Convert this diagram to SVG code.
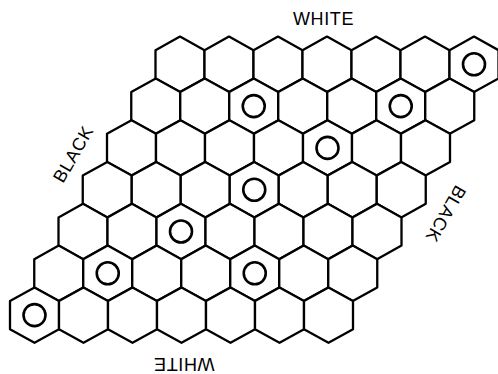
<svg xmlns="http://www.w3.org/2000/svg" xmlns:xlink="http://www.w3.org/1999/xlink" width="498" height="374" viewBox="0 0 498 374">
<style>
.cell{fill:#fff;stroke:#000;stroke-width:2.3;stroke-linejoin:round}
.stone{fill:none;stroke:#000;stroke-width:2.6}
.lbl{font-family:"Liberation Sans","DejaVu Sans",sans-serif;font-size:18px;fill:#000;text-anchor:middle;letter-spacing:0.6px}
</style>
<defs>
<polygon id="hex" class="cell" points="0,-27.7 24.5,-14.1 24.5,14.1 0,27.7 -24.5,14.1 -24.5,-14.1"/>
<circle id="stone" class="stone" r="11"/>
</defs>
<rect width="498" height="374" fill="#fff"/>
<g id="board">
<g id="h0-0" transform="translate(180,64.3)"><use xlink:href="#hex"/></g>
<g id="h0-1" transform="translate(229,64.3)"><use xlink:href="#hex"/></g>
<g id="h0-2" transform="translate(278,64.3)"><use xlink:href="#hex"/></g>
<g id="h0-3" transform="translate(327,64.3)"><use xlink:href="#hex"/></g>
<g id="h0-4" transform="translate(376,64.3)"><use xlink:href="#hex"/></g>
<g id="h0-5" transform="translate(425,64.3)"><use xlink:href="#hex"/></g>
<g id="h0-6" transform="translate(474,64.3)"><use xlink:href="#hex"/><use xlink:href="#stone"/></g>

<g id="h1-0" transform="translate(155.75,106.1)"><use xlink:href="#hex"/></g>
<g id="h1-1" transform="translate(204.75,106.1)"><use xlink:href="#hex"/></g>
<g id="h1-2" transform="translate(253.75,106.1)"><use xlink:href="#hex"/><use xlink:href="#stone"/></g>
<g id="h1-3" transform="translate(302.75,106.1)"><use xlink:href="#hex"/></g>
<g id="h1-4" transform="translate(351.75,106.1)"><use xlink:href="#hex"/></g>
<g id="h1-5" transform="translate(400.75,106.1)"><use xlink:href="#hex"/><use xlink:href="#stone"/></g>
<g id="h1-6" transform="translate(449.75,106.1)"><use xlink:href="#hex"/></g>

<g id="h2-0" transform="translate(131.5,147.9)"><use xlink:href="#hex"/></g>
<g id="h2-1" transform="translate(180.5,147.9)"><use xlink:href="#hex"/></g>
<g id="h2-2" transform="translate(229.5,147.9)"><use xlink:href="#hex"/></g>
<g id="h2-3" transform="translate(278.5,147.9)"><use xlink:href="#hex"/></g>
<g id="h2-4" transform="translate(327.5,147.9)"><use xlink:href="#hex"/><use xlink:href="#stone"/></g>
<g id="h2-5" transform="translate(376.5,147.9)"><use xlink:href="#hex"/></g>
<g id="h2-6" transform="translate(425.5,147.9)"><use xlink:href="#hex"/></g>

<g id="h3-0" transform="translate(107.25,189.7)"><use xlink:href="#hex"/></g>
<g id="h3-1" transform="translate(156.25,189.7)"><use xlink:href="#hex"/></g>
<g id="h3-2" transform="translate(205.25,189.7)"><use xlink:href="#hex"/></g>
<g id="h3-3" transform="translate(254.25,189.7)"><use xlink:href="#hex"/><use xlink:href="#stone"/></g>
<g id="h3-4" transform="translate(303.25,189.7)"><use xlink:href="#hex"/></g>
<g id="h3-5" transform="translate(352.25,189.7)"><use xlink:href="#hex"/></g>
<g id="h3-6" transform="translate(401.25,189.7)"><use xlink:href="#hex"/></g>

<g id="h4-0" transform="translate(83,231.5)"><use xlink:href="#hex"/></g>
<g id="h4-1" transform="translate(132,231.5)"><use xlink:href="#hex"/></g>
<g id="h4-2" transform="translate(181,231.5)"><use xlink:href="#hex"/><use xlink:href="#stone"/></g>
<g id="h4-3" transform="translate(230,231.5)"><use xlink:href="#hex"/></g>
<g id="h4-4" transform="translate(279,231.5)"><use xlink:href="#hex"/></g>
<g id="h4-5" transform="translate(328,231.5)"><use xlink:href="#hex"/></g>
<g id="h4-6" transform="translate(377,231.5)"><use xlink:href="#hex"/></g>

<g id="h5-0" transform="translate(58.75,273.3)"><use xlink:href="#hex"/></g>
<g id="h5-1" transform="translate(107.75,273.3)"><use xlink:href="#hex"/><use xlink:href="#stone"/></g>
<g id="h5-2" transform="translate(156.75,273.3)"><use xlink:href="#hex"/></g>
<g id="h5-3" transform="translate(205.75,273.3)"><use xlink:href="#hex"/></g>
<g id="h5-4" transform="translate(254.75,273.3)"><use xlink:href="#hex"/><use xlink:href="#stone"/></g>
<g id="h5-5" transform="translate(303.75,273.3)"><use xlink:href="#hex"/></g>
<g id="h5-6" transform="translate(352.75,273.3)"><use xlink:href="#hex"/></g>

<g id="h6-0" transform="translate(34.5,315.1)"><use xlink:href="#hex"/><use xlink:href="#stone"/></g>
<g id="h6-1" transform="translate(83.5,315.1)"><use xlink:href="#hex"/></g>
<g id="h6-2" transform="translate(132.5,315.1)"><use xlink:href="#hex"/></g>
<g id="h6-3" transform="translate(181.5,315.1)"><use xlink:href="#hex"/></g>
<g id="h6-4" transform="translate(230.5,315.1)"><use xlink:href="#hex"/></g>
<g id="h6-5" transform="translate(279.5,315.1)"><use xlink:href="#hex"/></g>
<g id="h6-6" transform="translate(328.5,315.1)"><use xlink:href="#hex"/></g>
</g>
<g id="labels">
<text class="lbl" x="323.5" y="25">WHITE</text>
<text class="lbl" transform="translate(184,364) rotate(180)" y="6.5">WHITE</text>
<text class="lbl" transform="translate(73,154) rotate(-60)" y="6.5">BLACK</text>
<text class="lbl" transform="translate(446,214) rotate(120)" y="6.5">BLACK</text>
</g>
</svg>
